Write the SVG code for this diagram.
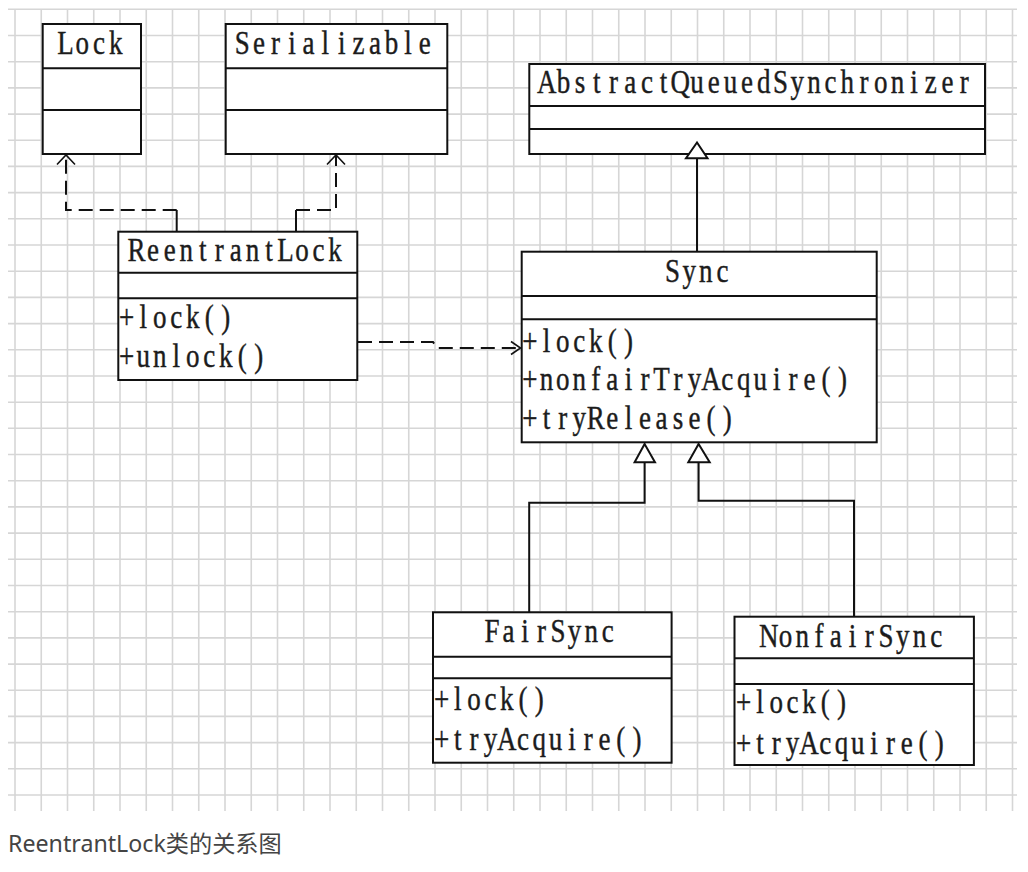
<svg xmlns="http://www.w3.org/2000/svg" width="1028" height="872" viewBox="0 0 1028 872">
<style>
.grid{stroke:#d6d6d6;stroke-width:1.6;fill:none}
.box{fill:#fff;stroke:#111;stroke-width:2}
.sep{stroke:#111;stroke-width:2;fill:none}
.t{font-family:"Liberation Serif","DejaVu Serif",serif;font-size:27px;fill:#1c1c1c;stroke:#1c1c1c;stroke-width:0.35;text-anchor:middle}
.dash{fill:none;stroke:#111;stroke-width:2;stroke-dasharray:14 7}
.solid{fill:none;stroke:#111;stroke-width:2}
.open{fill:none;stroke:#111;stroke-width:1.6}
.tri{fill:#fff;stroke:#111;stroke-width:2;stroke-linejoin:miter}
.cap{font-family:"Noto Sans","Noto Sans CJK SC",sans-serif;font-size:23.2px;fill:#444}
</style>
<rect width="1028" height="872" fill="#fff"/>
<path class="grid" d="M8 9.3H1017M8 35.5H1017M8 61.7H1017M8 87.9H1017M8 114.1H1017M8 140.3H1017M8 166.4H1017M8 192.6H1017M8 218.8H1017M8 245H1017M8 271.2H1017M8 297.4H1017M8 323.6H1017M8 349.8H1017M8 376H1017M8 402.2H1017M8 428.3H1017M8 454.5H1017M8 480.7H1017M8 506.9H1017M8 533.1H1017M8 559.3H1017M8 585.5H1017M8 611.7H1017M8 637.9H1017M8 664.1H1017M8 690.3H1017M8 716.4H1017M8 742.6H1017M8 768.8H1017M8 795H1017M15 9V811M41.25 9V811M67.5 9V811M93.75 9V811M120 9V811M146.25 9V811M172.5 9V811M198.75 9V811M225 9V811M251.25 9V811M277.5 9V811M303.75 9V811M330 9V811M356.25 9V811M382.5 9V811M408.75 9V811M435 9V811M461.25 9V811M487.5 9V811M513.75 9V811M540 9V811M566.25 9V811M592.5 9V811M618.75 9V811M645 9V811M671.25 9V811M697.5 9V811M723.75 9V811M750 9V811M776.25 9V811M802.5 9V811M828.75 9V811M855 9V811M881.25 9V811M907.5 9V811M933.75 9V811M960 9V811M986.25 9V811M1012.5 9V811"/>

<g id="node-lock">
<rect class="box" x="42.7" y="24" width="98.3" height="130"/>
<path class="sep" d="M42.7 68.3H141M42.7 110H141"/>
<text class="t" transform="translate(0 54) scale(1 1.22)" x="65.6 82.3 99 115.7" y="0">Lock</text>
</g>

<g id="node-serializable">
<rect class="box" x="225.7" y="24" width="221.6" height="130"/>
<path class="sep" d="M225.7 68.3H447.3M225.7 110H447.3"/>
<text class="t" transform="translate(0 54) scale(1 1.22)" x="242.3 258.9 275.5 292 308.6 325.2 341.8 358.4 375 391.5 408.1 424.7" y="0">Serializable</text>
</g>

<g id="node-aqs">
<rect class="box" x="529.3" y="64" width="455.7" height="90"/>
<path class="sep" d="M529.3 106H985M529.3 129H985"/>
<text class="t" transform="translate(0 93) scale(1 1.22)" x="546.7 563.4 580.1 596.8 613.5 630.2 646.9 663.6 680.3 697 713.7 730.4 747.1 763.8 780.5 797.2 813.9 830.6 847.3 864 880.7 897.4 914.1 930.8 947.5 964.2" y="0">AbstractQueuedSynchronizer</text>
</g>

<g id="node-reentrantlock">
<rect class="box" x="118.3" y="231.7" width="239" height="148.3"/>
<path class="sep" d="M118.3 272.7H357.3M118.3 298.3H357.3"/>
<text class="t" transform="translate(0 261) scale(1 1.22)" x="136.6 153.1 169.7 186.2 202.8 219.3 235.8 252.4 268.9 285.5 302 318.5 335.1" y="0">ReentrantLock</text>
<text class="t" transform="translate(0 328) scale(1 1.22)" x="126.75 143.25 159.75 176.25 192.75 209.25 225.75" y="0">+lock()</text>
<text class="t" transform="translate(0 367) scale(1 1.22)" x="126.75 143.25 159.75 176.25 192.75 209.25 225.75 242.25 258.75" y="0">+unlock()</text>
</g>

<g id="node-sync">
<rect class="box" x="521.7" y="251.7" width="355" height="190.6"/>
<path class="sep" d="M521.7 296H876.7M521.7 319.3H876.7"/>
<text class="t" transform="translate(0 282) scale(1 1.22)" x="672.6 689.2 705.8 722.4" y="0">Sync</text>
<text class="t" transform="translate(0 352) scale(1 1.22)" x="529.9 546.4 562.8 579.3 595.7 612.2 628.6" y="0">+lock()</text>
<text class="t" transform="translate(0 390) scale(1 1.22)" x="529.9 546.4 562.8 579.3 595.7 612.2 628.6 645.1 661.5 677.9 694.4 710.9 727.3 743.8 760.2 776.7 793.1 809.6 826 842.5" y="0">+nonfairTryAcquire()</text>
<text class="t" transform="translate(0 428.5) scale(1 1.22)" x="529.9 546.4 562.8 579.3 595.7 612.2 628.6 645.1 661.5 677.9 694.4 710.9 727.3" y="0">+tryRelease()</text>
</g>

<g id="node-fairsync">
<rect class="box" x="433" y="612.3" width="238.6" height="150.4"/>
<path class="sep" d="M433 656.7H671.6M433 678.3H671.6"/>
<text class="t" transform="translate(0 642) scale(1 1.22)" x="491.9 508.4 525 541.5 558.1 574.6 591.2 607.7" y="0">FairSync</text>
<text class="t" transform="translate(0 709.5) scale(1 1.22)" x="441.5 457.8 474.1 490.4 506.7 523 539.3" y="0">+lock()</text>
<text class="t" transform="translate(0 750) scale(1 1.22)" x="441.5 457.8 474.1 490.4 506.7 523 539.3 555.6 571.9 588.2 604.5 620.8 637.1" y="0">+tryAcquire()</text>
</g>

<g id="node-nonfairsync">
<rect class="box" x="734.5" y="616.7" width="239.4" height="148.3"/>
<path class="sep" d="M734.5 658.3H973.9M734.5 684H973.9"/>
<text class="t" transform="translate(0 647) scale(1 1.22)" x="768.8 785.5 802.3 819 835.8 852.6 869.3 886.1 902.8 919.6 936.3" y="0">NonfairSync</text>
<text class="t" transform="translate(0 713) scale(1 1.22)" x="743.7 760 776.3 792.6 808.9 825.2 841.5" y="0">+lock()</text>
<text class="t" transform="translate(0 753.5) scale(1 1.22)" x="743.7 760 776.3 792.6 808.9 825.2 841.5 857.8 874.1 890.4 906.7 923 939.3" y="0">+tryAcquire()</text>
</g>

<g id="connectors">
<path class="solid" d="M176.7 231.7V210"/>
<path class="dash" d="M176.7 210H66V156"/>
<path class="open" d="M57 164.5L66 155L75 164.5"/>
<path class="solid" d="M296 231.7V210"/>
<path class="dash" d="M296 210H336V156"/>
<path class="open" d="M327 164.5L336 155L345 164.5"/>
<path class="dash" d="M358 342H433L437 348H519"/>
<path class="open" d="M511 341.5L520.5 348L511 354.5"/>
<path class="solid" d="M697 158V251.7"/>
<polygon class="tri" points="697,142.5 686,158.3 707.5,158.3"/>
<path class="solid" d="M644.6 462.3V502.7H529.2V612.3"/>
<polygon class="tri" points="644.6,444 634.6,462.3 655,462.3"/>
<path class="solid" d="M698.6 462.3V500.7H854V616.7"/>
<polygon class="tri" points="698.6,444 688.3,462.3 709.7,462.3"/>
</g>

<text class="cap" x="8" y="852">ReentrantLock类的关系图</text>
</svg>
